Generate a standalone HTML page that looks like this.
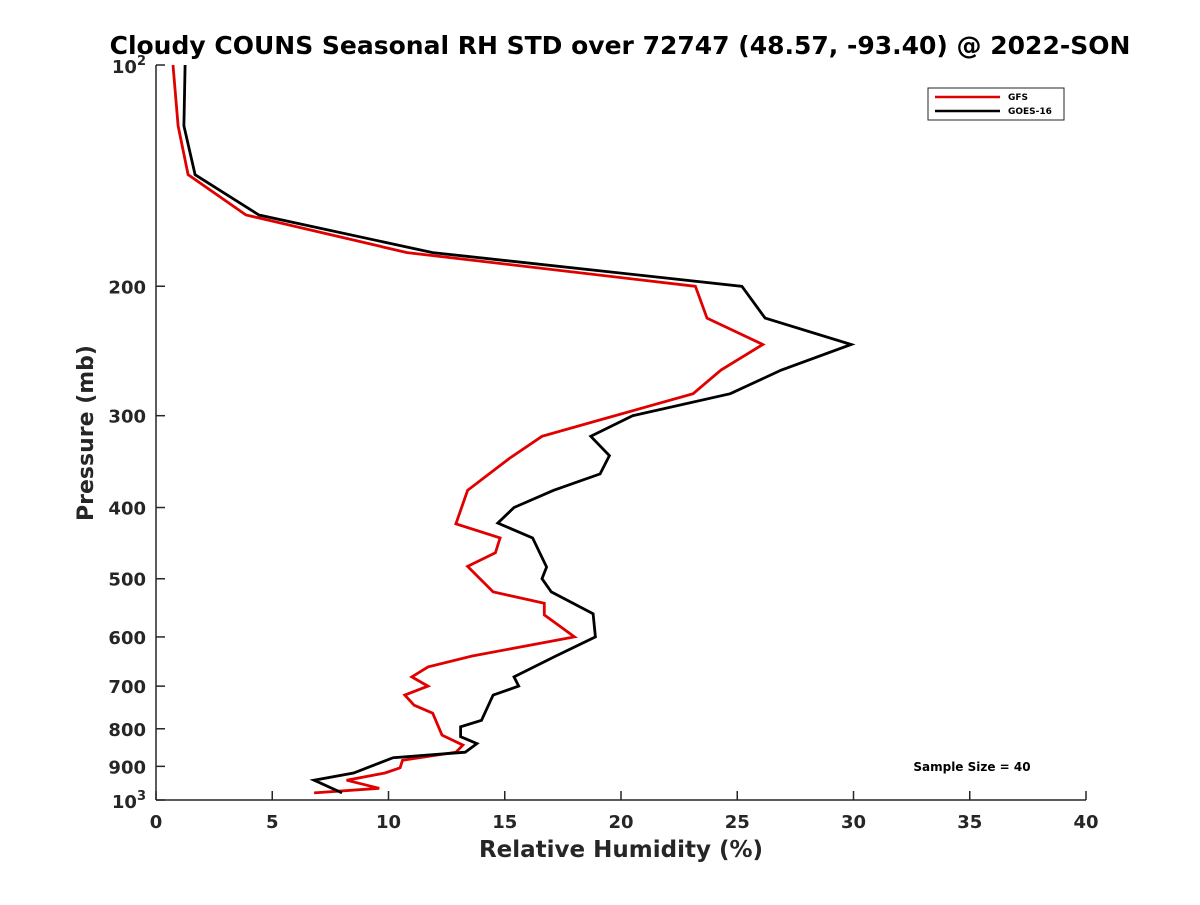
<!DOCTYPE html>
<html><head><meta charset="utf-8"><style>
body{margin:0;background:#fff}
svg{font-family:"DejaVu Sans","Liberation Sans",sans-serif;font-weight:bold}
</style></head><body>
<svg id="chart" width="1200" height="900" viewBox="0 0 1200 900">
<text x="620" y="54" text-anchor="middle" font-size="25" fill="#000">Cloudy COUNS Seasonal RH STD over 72747 (48.57, -93.40) @ 2022-SON</text>
<g id="axes"></g>
<g id="series"></g>
<text x="0" y="0" transform="translate(93,433) rotate(-90)" text-anchor="middle" font-size="22" fill="#262626">Pressure (mb)</text>
<text x="621" y="857" text-anchor="middle" font-size="23" fill="#262626">Relative Humidity (%)</text>
<g>
<rect x="928" y="88" width="136" height="32" fill="#fff" stroke="#262626" stroke-width="1"/>
<line x1="935" y1="97" x2="1000" y2="97" stroke="#e00000" stroke-width="2.5"/>
<text x="1008" y="100" font-size="9" fill="#000">GFS</text>
<line x1="935" y1="111" x2="1000" y2="111" stroke="#000" stroke-width="2.5"/>
<text x="1008" y="114" font-size="9" fill="#000">GOES-16</text>
</g>
<text x="972" y="771" text-anchor="middle" font-size="12" fill="#000">Sample Size = 40</text>
</svg>
<script>
const xTicks=[0,5,10,15,20,25,30,35,40];
const yTicks=[200,300,400,500,600,700,800,900];
const gfsP=[100,121,141,160,180,200,221,240,260,280,304,320,343,379,421,440,461,481,521,540,560,600,637,659,680,700,720,743,762,816,842,861,883,904,919,940,964,978];
const gfsRH=[0.73,0.95,1.38,3.87,10.8,23.2,23.7,26.1,24.3,23.1,19.1,16.6,15.2,13.4,12.9,14.8,14.6,13.4,14.5,16.7,16.7,18.0,13.6,11.7,11.0,11.7,10.7,11.1,11.9,12.3,13.2,12.9,10.6,10.5,9.85,8.2,9.6,6.8];
const goesP=[100,121,141,160,180,200,221,240,260,280,300,320,340,360,379,400,420,440,482,500,521,558,600,637,680,700,720,779,795,820,838,861,876,919,940,978];
const goesRH=[1.25,1.2,1.68,4.43,11.9,25.2,26.2,29.9,26.9,24.7,20.5,18.7,19.5,19.1,17.1,15.4,14.7,16.2,16.8,16.6,17.0,18.8,18.9,17.2,15.4,15.6,14.5,14.0,13.1,13.1,13.8,13.3,10.2,8.5,6.8,8.0];
const X0=156,X1=1086,Y0=65,Y1=800;
const sx=v=>X0+(v/40)*(X1-X0);
const sy=p=>Y0+(Math.log10(p)-2)*(Y1-Y0);
const NS='http://www.w3.org/2000/svg';
const axes=document.getElementById('axes');
function mk(tag,attrs,parent){const e=document.createElementNS(NS,tag);for(const k in attrs)e.setAttribute(k,attrs[k]);parent.appendChild(e);return e;}
let l=mk('line',{x1:X0,y1:Y0,x2:X0,y2:Y1,stroke:'#262626','stroke-width':1.5},axes);


l=mk('line',{x1:X0,y1:Y1,x2:X1,y2:Y1,stroke:'#262626','stroke-width':1.5},axes);


xTicks.forEach(v=>{
 const t=mk('line',{x1:sx(v),y1:Y1,x2:sx(v),y2:Y1-9,stroke:'#262626','stroke-width':1.5},axes);
 
 
 const tx=mk('text',{x:sx(v),y:Y1+28,'text-anchor':'middle','font-size':18,fill:'#262626'},axes);
 tx.textContent=v;
 
 
});
yTicks.concat([100,1000]).forEach(v=>{
 const t=mk('line',{x1:X0,y1:sy(v),x2:X0+9,y2:sy(v),stroke:'#262626','stroke-width':1.5},axes);
 
 
});
yTicks.forEach(v=>{
 const tx=mk('text',{x:X0-10,y:sy(v)+7,'text-anchor':'end','font-size':18,fill:'#262626'},axes);
 tx.textContent=v;
 
 
});
[[100,'2'],[1000,'3']].forEach(([v,e])=>{
 const tx=mk('text',{x:X0-10,y:sy(v)+8,'text-anchor':'end','font-size':18,fill:'#262626'},axes);
 tx.innerHTML='10<tspan dy="-8" font-size="13">'+e+'</tspan>';
 
 
});
const ser=document.getElementById('series');
function line(P,R,color,name){
 const d=P.map((p,i)=>(i?'L':'M')+sx(R[i]).toFixed(1)+','+sy(p).toFixed(1)).join('');
 const e=mk('path',{d:d,fill:'none',stroke:color,'stroke-width':2.8,'stroke-linejoin':'miter'},ser);
 
 
}
line(gfsP,gfsRH,'#e00000','gfs-line');
line(goesP,goesRH,'#000','goes16-line');
</script>
</body></html>
